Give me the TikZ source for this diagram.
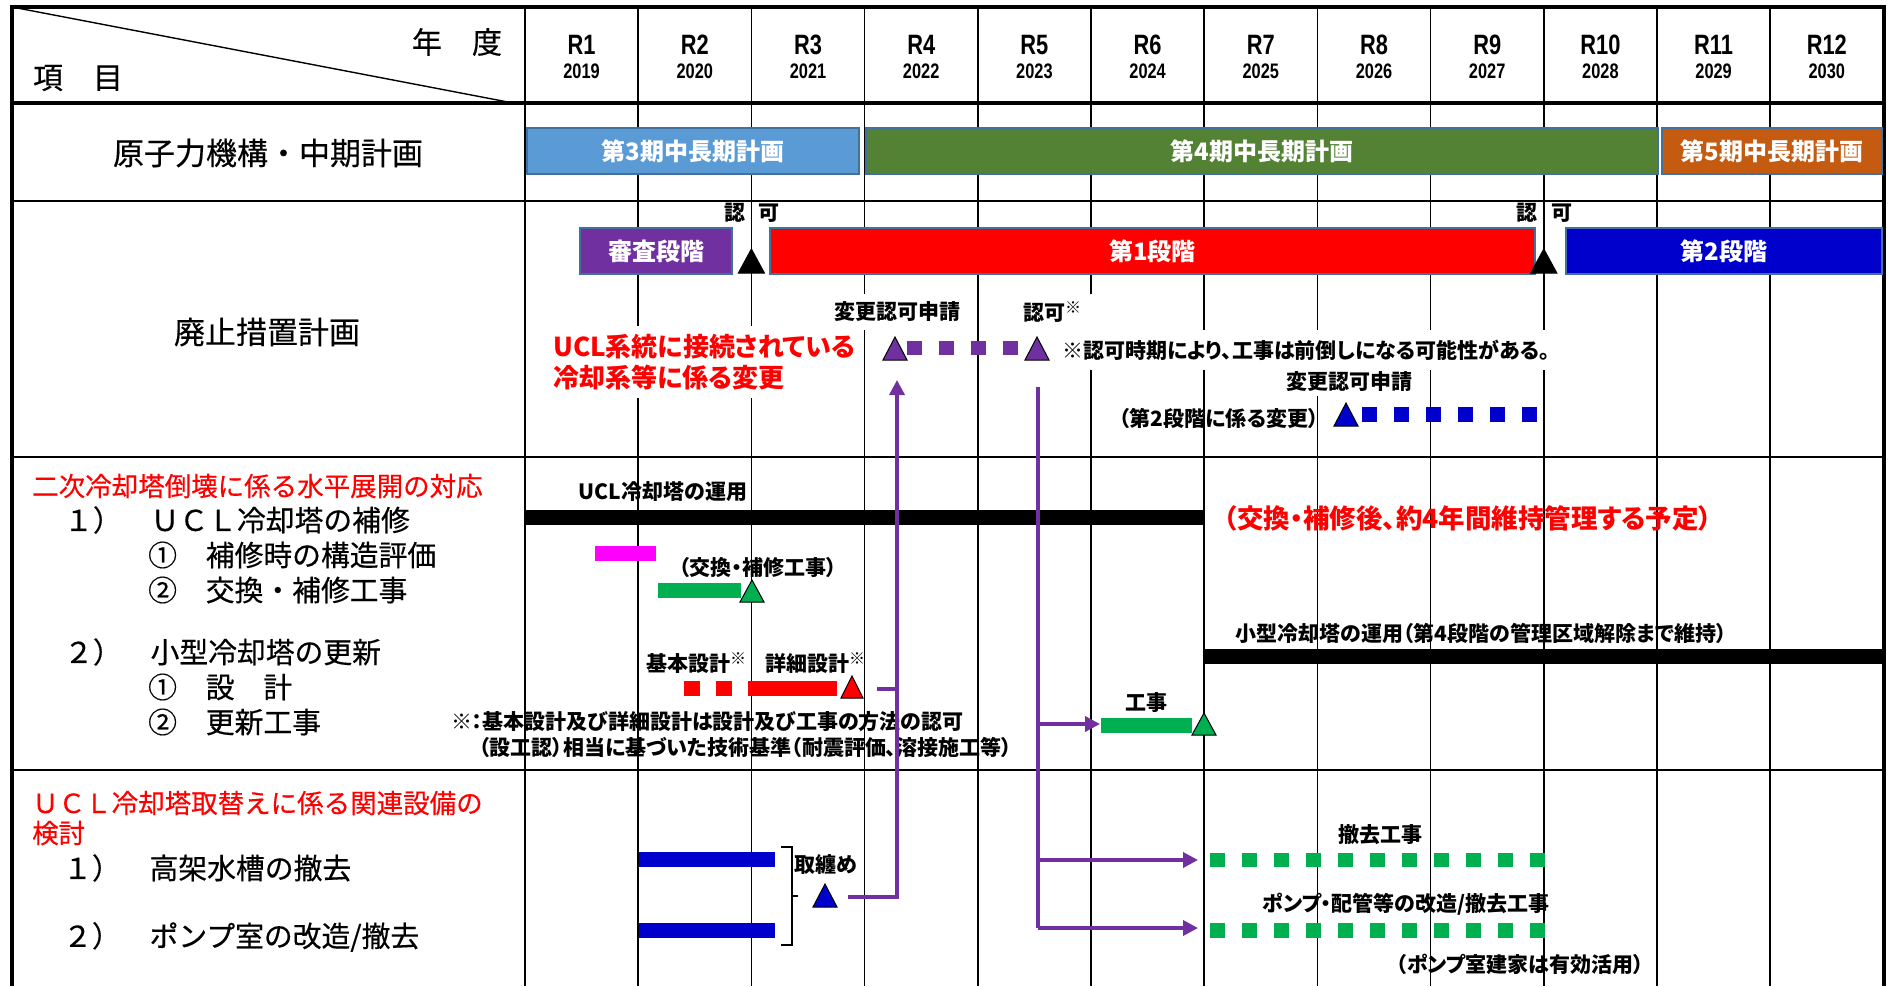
\documentclass[tikz,border=0pt]{standalone}
\usepackage{fontspec}
\newfontfamily\jp{Noto Sans CJK JP}[FakeBold=0.4]
\newfontfamily\jpp{Noto Sans CJK JP}[RawFeature=+palt]
\newfontfamily\yr{Liberation Sans}[FakeStretch=0.78]
\usetikzlibrary{arrows.meta}
\definecolor{cblueA}{HTML}{5B9BD5}
\definecolor{cgreenA}{HTML}{548235}
\definecolor{corangeA}{HTML}{C55A11}
\definecolor{cpurple}{HTML}{7030A0}
\definecolor{cred}{HTML}{FF0000}
\definecolor{cblueB}{HTML}{0000CC}
\definecolor{cedge}{HTML}{41719C}
\definecolor{cmag}{HTML}{FF00FF}
\definecolor{cgreen}{HTML}{00B050}
\newcommand\fs[1]{\fontsize{#1}{#1}\selectfont}
\newcommand\kome{\raisebox{7pt}{\fs{16}※}}
\newcommand\tria[5]{\filldraw[draw=black, line width=1pt, fill=#1] ({#2-#4},#3) -- (#2,{#3-#5}) -- ({#2+#4},#3) -- cycle;}
\tikzset{
  gridline/.style={line width=1.6pt, black},
  rowline/.style={line width=2.8pt, black},
  frameline/.style={line width=4pt, black},
  barbox/.style={draw=cedge, line width=2pt, text=white, font=\jpp\bfseries\fs{24}, minimum height=46pt},
  blbl/.style={font=\jpp\bfseries\fs{21}},
  head/.style={font=\jp\fs{30}},
  item/.style={font=\jp\fs{28.8}, anchor=west},
  redhead/.style={font=\jp\fs{26.5}, text=cred, anchor=west},
  yrR/.style={font=\yr\bfseries\fs{28}},
  yrY/.style={font=\yr\bfseries\fs{21}},
  pline/.style={cpurple, line width=3.5pt},
  parrow/.style={pline, -{Triangle[width=15pt,length=15pt]}},
}
\begin{document}
\begin{tikzpicture}[x=1pt,y=-1pt, every node/.style={inner sep=0pt}]
\useasboundingbox (0,0) rectangle (1895,986);
\fill[white] (0,0) rectangle (1895,986);
% grid
\foreach \i in {1,...,11} \draw[gridline] ({525+113.2*\i},7) -- ({525+113.2*\i},986);
\draw[gridline, line width=2.2pt] (525,7) -- (525,986);
\draw[line width=1.4pt] (12,7) -- (513,103);
\draw[rowline, line width=3.4pt] (12,103) -- (1884,103);
\foreach \y in {201,457,770} \draw[rowline] (12,\y) -- (1884,\y);
\draw[frameline] (12,986) -- (12,7) -- (1884,7) -- (1884,986);
% header
\node[head] (nendo) at (457,42) {年　度};
\node[head] (komoku) at (78,78) {項　目};
\foreach \r in {1,...,12}{
  \pgfmathsetmacro\cx{525+113.2*(\r-0.5)}
  \pgfmathtruncatemacro\yy{2018+\r}
  \node[yrR] (rl\r) at (\cx,45) {R\r};
  \node[yrY] (yl\r) at (\cx,71) {\yy};
}
% titles
\node[font=\jp\fs{31}] (t1) at (268,153) {原子力機構・中期計画};
\node[font=\jp\fs{31}] (t2) at (267,332) {廃止措置計画};
% row 1 bars
\node[barbox, fill=cblueA, minimum width=332pt] (p3) at (693,151) {第3期中長期計画};
\node[barbox, fill=cgreenA, minimum width=792pt] (p4) at (1262,151) {第4期中長期計画};
\node[barbox, fill=corangeA, minimum width=220pt] (p5) at (1772,151) {第5期中長期計画};
% row 2
\node[barbox, fill=cpurple, minimum width=152pt] (s0) at (656,251) {審査段階};
\node[barbox, fill=cred, minimum width=765pt] (s1) at (1152.5,251) {第1段階};
\node[barbox, fill=cblueB, minimum width=316pt] (s2) at (1724,251) {第2段階};
\node[blbl] (nk1) at (752,213) {認\hspace{14pt}可};
\node[blbl] (nk2) at (1544,213) {認\hspace{14pt}可};
\tria{black}{751.4}{273}{13}{24}
\tria{black}{1543.8}{273}{13}{24}
\node[blbl, fill=white, inner xsep=10pt, inner ysep=8pt] (hs1) at (897,312) {変更認可申請};
\node[blbl, fill=white, inner xsep=12pt, inner ysep=8pt] (nk3) at (1052,312) {認可\kome};
\node[font=\jpp\bfseries\fontsize{26}{31}\selectfont, text=cred, fill=white, align=left, anchor=west, inner sep=8pt] (ucl) at (545,362) {UCL系統に接続されている\\冷却系等に係る変更};
\node[font=\jpp\bfseries\fs{21}, fill=white, anchor=west, inner xsep=6pt, inner ysep=10pt] (note1) at (1056,350) {※認可時期により、工事は前倒しになる可能性がある。};
\node[blbl, fill=white, inner xsep=6pt, inner ysep=4pt] (hs2) at (1349,382) {変更認可申請};
\node[blbl] (d2) at (1219,418) {（第2段階に係る変更）};
\draw[cpurple, line width=14pt, dash pattern=on 15pt off 17pt] (907,348) -- (1024,348);
\tria{cpurple}{895}{360}{12}{23}
\tria{cpurple}{1037}{360}{12}{23}
\draw[cblueB, line width=15pt, dash pattern=on 15pt off 17pt] (1362,414.5) -- (1540,414.5);
\tria{cblueB}{1346}{426}{12}{23}
% left column
\node[redhead] (h1) at (32,486) {二次冷却塔倒壊に係る水平展開の対応};
\node[item] (i1) at (64,520) {１）　ＵＣＬ冷却塔の補修};
\node[item] (i11) at (148,555) {①　補修時の構造評価};
\node[item] (i12) at (148,590) {②　交換・補修工事};
\node[item] (i2) at (64,652) {２）　小型冷却塔の更新};
\node[item] (i21) at (148,687) {①　設　計};
\node[item] (i22) at (148,722) {②　更新工事};
\node[redhead] (h2) at (32,803) {ＵＣＬ冷却塔取替えに係る関連設備の};
\node[redhead] (h2b) at (32,833) {検討};
\node[item] (j1) at (63,868) {１）　高架水槽の撤去};
\node[item] (j2) at (63,937) {２）　ポンプ室の改造/撤去};
% row 3
\node[blbl] (uclop) at (663,492) {UCL冷却塔の運用};
\fill[black] (525,510) rectangle (1205,525);
\node[font=\jpp\bfseries\fs{26.5}, text=cred] (kanri) at (1468,518) {（交換・補修後、約4年間維持管理する予定）};
\fill[cmag] (595,546) rectangle (656,561);
\node[blbl] (kk) at (758,568) {（交換・補修工事）};
\fill[cgreen] (658,583) rectangle (741,598);
\tria{cgreen}{752}{602}{12}{22}
\node[blbl] (smallop) at (1481,633) {小型冷却塔の運用（第4段階の管理区域解除まで維持）};
\fill[black] (1205,649) rectangle (1884,664);
\node[blbl] (kihon) at (696,663) {基本設計\kome};
\node[blbl] (shosai) at (815,663) {詳細設計\kome};
\fill[cred] (684,681) rectangle (700,696);
\fill[cred] (716,681) rectangle (732,696);
\fill[cred] (748,681) rectangle (837,696);
\tria{cred}{852}{698}{11}{22}
\node[blbl] (koji) at (1146,703) {工事};
\fill[cgreen] (1101,718) rectangle (1192,733);
\tria{cgreen}{1204}{735}{12}{22}
\node[blbl, anchor=west] (cm1) at (451,722) {※：基本設計及び詳細設計は設計及び工事の方法の認可};
\node[blbl, anchor=west] (cm2) at (479,747) {（設工認）相当に基づいた技術基準（耐震評価、溶接施工等）};
% row 4
\fill[cblueB] (639,852) rectangle (775,867);
\fill[cblueB] (639,923) rectangle (775,938);
\draw[line width=2.5pt] (781,847) -- (792,847) -- (792,945) -- (781,945);
\draw[line width=2.5pt] (792,896) -- (798,896);
\node[blbl] (tm) at (826,865) {取纏め};
\tria{cblueB}{825}{907}{12}{23}
\node[blbl] (tk) at (1380,835) {撤去工事};
\node[blbl] (pk) at (1406,904) {ポンプ・配管等の改造/撤去工事};
\node[blbl] (pu) at (1520,964) {（ポンプ室建家は有効活用）};
\draw[cgreen, line width=14pt, dash pattern=on 15pt off 17pt] (1210,860) -- (1547,860);
\draw[cgreen, line width=15pt, dash pattern=on 15pt off 17pt] (1210,930.5) -- (1547,930.5);
% purple connectors
\coordinate (tmR) at (848,897);
\coordinate (tmC) at (897,897);
\coordinate (upTip) at (897,380);
\draw[parrow] (tmR) -- (tmC) -- (upTip);
\coordinate (stubA) at (877,689);
\coordinate (stubB) at (897,689);
\draw[pline] (stubA) -- (stubB);
\coordinate (p2top) at (1038,387);
\coordinate (p2bot) at (1038,928);
\draw[pline] (p2top) -- (p2bot);
\coordinate (a1s) at (1038,724);
\coordinate (a1e) at (1100,724);
\draw[parrow] (a1s) -- (a1e);
\coordinate (a2s) at (1038,860);
\coordinate (a2e) at (1198,860);
\coordinate (a3e) at (1198,928);
\draw[parrow] (a2s) -- (a2e);
\draw[parrow] (p2bot) -- (a3e);
\end{tikzpicture}
\end{document}
